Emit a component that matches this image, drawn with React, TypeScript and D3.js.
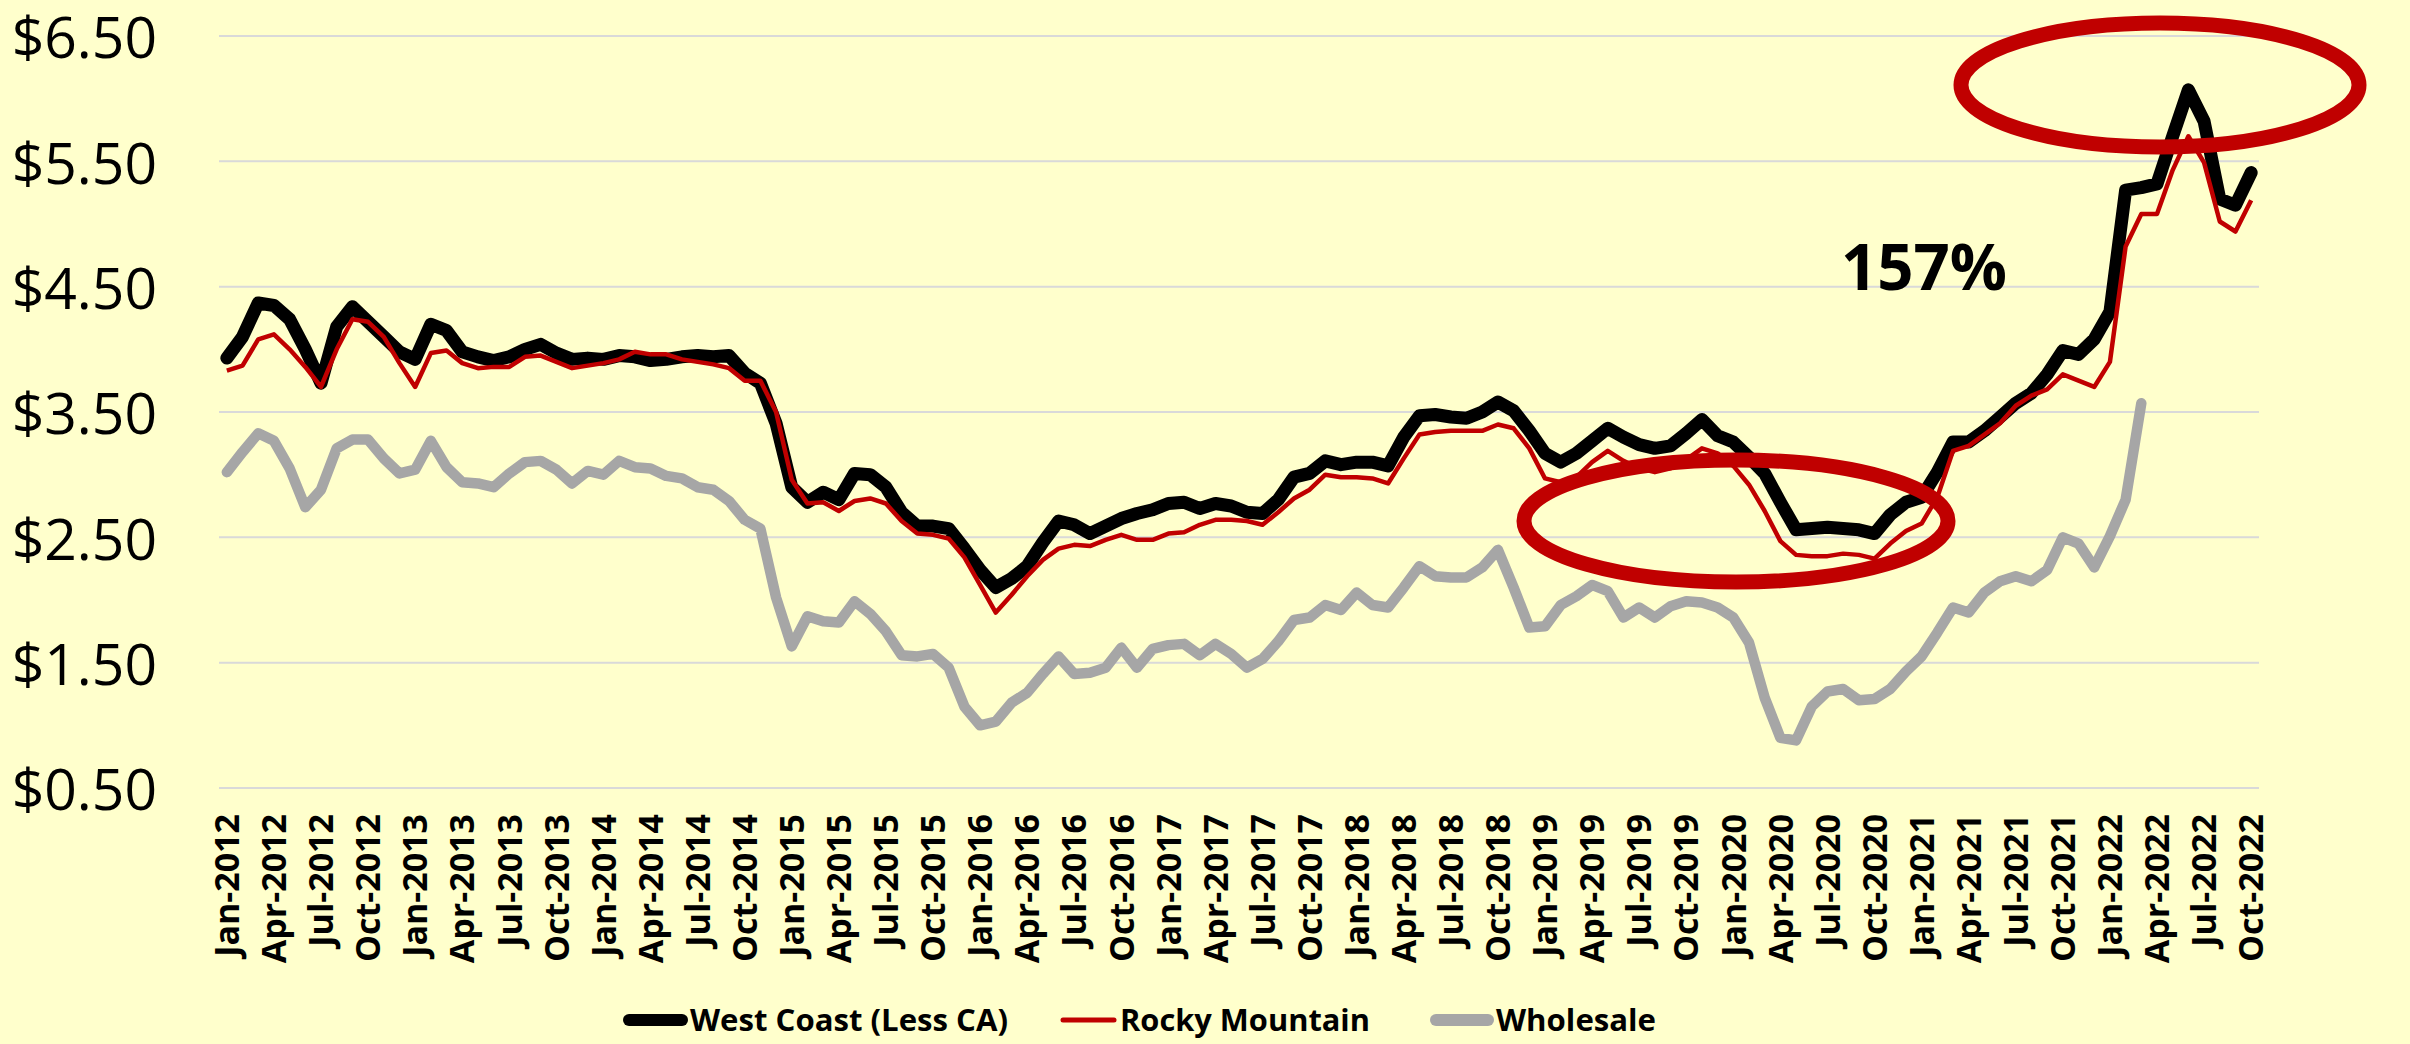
import { useEffect, useRef } from "react";
import * as d3 from "d3";

// monthly categories Jan-2012 .. Oct-2022
const months = d3
  .timeMonth.range(new Date(2012, 0, 1), new Date(2022, 10, 1))
  .map(d3.timeFormat("%b-%Y"));

const westCoast = [
  3.93, 4.1, 4.37, 4.35, 4.24, 4.0, 3.73, 4.18, 4.34, 4.22, 4.1, 3.98,
  3.92, 4.2, 4.15, 3.98, 3.94, 3.91, 3.94, 4.0, 4.04, 3.97, 3.92, 3.93,
  3.92, 3.95, 3.94, 3.91, 3.92, 3.94, 3.95, 3.94, 3.95, 3.81, 3.73, 3.41,
  2.9, 2.78, 2.86, 2.8, 3.01, 3.0, 2.9, 2.7, 2.59, 2.59, 2.57, 2.41,
  2.24, 2.1, 2.17, 2.27, 2.46, 2.63, 2.6, 2.53, 2.59, 2.65, 2.69, 2.72,
  2.77, 2.78, 2.73, 2.77, 2.75, 2.7, 2.69, 2.8, 2.98, 3.01, 3.11, 3.08,
  3.1, 3.1, 3.07, 3.3, 3.47, 3.48, 3.46, 3.45, 3.5, 3.58, 3.51, 3.35,
  3.17, 3.1, 3.17, 3.27, 3.37, 3.3, 3.24, 3.21, 3.23, 3.33, 3.44, 3.31,
  3.26, 3.14, 3.01, 2.78, 2.56, 2.57, 2.58, 2.57, 2.56, 2.53, 2.68, 2.78,
  2.82, 3.02, 3.26, 3.26, 3.35, 3.46, 3.57, 3.65, 3.8, 3.99, 3.96, 4.08,
  4.3, 5.27, 5.29, 5.32, 5.7, 6.07, 5.82, 5.2, 5.15, 5.41,
];

const rockyMountain = [
  3.83, 3.87, 4.08, 4.12, 4.0, 3.86, 3.7, 4.0, 4.24, 4.22, 4.1, 3.89,
  3.7, 3.97, 3.99, 3.89, 3.85, 3.86, 3.86, 3.94, 3.95, 3.9, 3.85, 3.87,
  3.89, 3.92, 3.98, 3.96, 3.96, 3.92, 3.9, 3.88, 3.85, 3.75, 3.75, 3.5,
  2.96, 2.77, 2.78, 2.71, 2.79, 2.81, 2.77, 2.63, 2.53, 2.52, 2.49, 2.34,
  2.12, 1.9, 2.04, 2.19, 2.32, 2.41, 2.44, 2.43, 2.48, 2.52, 2.48, 2.48,
  2.53, 2.54, 2.6, 2.64, 2.64, 2.63, 2.6, 2.7, 2.81, 2.88, 3.0, 2.98,
  2.98, 2.97, 2.93, 3.13, 3.32, 3.34, 3.35, 3.35, 3.35, 3.4, 3.37, 3.21,
  2.97, 2.94, 2.98, 3.1, 3.19, 3.11, 3.05, 3.02, 3.05, 3.12, 3.21, 3.17,
  3.07, 2.92, 2.71, 2.47, 2.36, 2.35, 2.35, 2.37, 2.36, 2.33, 2.45, 2.55,
  2.61, 2.82, 3.19, 3.23, 3.32, 3.41, 3.55, 3.63, 3.68, 3.8, 3.75, 3.7,
  3.9, 4.82, 5.08, 5.08, 5.43, 5.7, 5.49, 5.02, 4.94, 5.19,
];

// wholesale stops at Mar-2022
const wholesale = [
  3.02, 3.18, 3.33, 3.27, 3.05, 2.74, 2.88, 3.21, 3.28, 3.28, 3.13, 3.01,
  3.04, 3.27, 3.06, 2.94, 2.93, 2.9, 3.01, 3.1, 3.11, 3.04, 2.93, 3.03,
  3.0, 3.11, 3.06, 3.05, 2.99, 2.97, 2.9, 2.88, 2.79, 2.64, 2.57, 2.02,
  1.63, 1.87, 1.83, 1.82, 1.99, 1.89, 1.75, 1.56, 1.55, 1.57, 1.46, 1.15,
  1.0, 1.03, 1.18, 1.26, 1.41, 1.55, 1.41, 1.42, 1.46, 1.62, 1.46, 1.61,
  1.64, 1.65, 1.56, 1.65, 1.57, 1.46, 1.53, 1.67, 1.84, 1.86, 1.96, 1.92,
  2.06, 1.96, 1.94, 2.1, 2.27, 2.19, 2.18, 2.18, 2.26, 2.4, 2.1, 1.78,
  1.79, 1.96, 2.03, 2.12, 2.07, 1.86, 1.94, 1.86, 1.95, 1.99, 1.98, 1.94,
  1.86, 1.66, 1.22, 0.9, 0.88, 1.15, 1.27, 1.29, 1.2, 1.21, 1.29, 1.43,
  1.55, 1.74, 1.94, 1.9, 2.06, 2.15, 2.19, 2.15, 2.24, 2.5, 2.45, 2.26,
  2.51, 2.8, 3.57,
];

const yTicks = [0.5, 1.5, 2.5, 3.5, 4.5, 5.5, 6.5];
const seriesNames = ["West Coast (Less CA)", "Rocky Mountain", "Wholesale"];
const calloutText = "157%";

function App() {
  const ref = useRef<SVGSVGElement>(null);

  useEffect(() => {
    drawChart();
  }, []);

  function drawChart() {
    const width = 2410,
      height = 1044;
    const margin = { left: 219, right: 151, top: 36, bottom: 256 };

    const svg = d3.select(ref.current);
    svg.selectAll("*").remove();

    svg.append("rect").attr("width", width).attr("height", height).attr("fill", "#FFFFCC");

    const x = d3
      .scaleBand()
      .domain(months)
      .range([margin.left, width - margin.right]);
    const cx = (i: number) => (x(months[i]) as number) + x.bandwidth() / 2;

    const y = d3
      .scaleLinear()
      .domain([0.5, 6.5])
      .range([height - margin.bottom, margin.top]);

    // gridlines
    svg.append("g")
      .selectAll("line")
      .data(yTicks)
      .join("line")
      .attr("x1", margin.left)
      .attr("x2", width - margin.right)
      .attr("y1", (d) => y(d))
      .attr("y2", (d) => y(d))
      .attr("stroke", "#D9D9D9")
      .attr("stroke-width", 2);

    // y axis labels
    const yAxis = svg.append("g")
      .attr("transform", `translate(157,0)`)
      .call(d3.axisLeft(y).tickValues(yTicks).tickSize(0).tickPadding(0).tickFormat(d3.format("$.2f")));
    yAxis.select(".domain").remove();
    yAxis.selectAll("text")
      .attr("font-family", "'Open Sans', sans-serif")
      .attr("font-size", 57)
      .attr("fill", "#000")
      .attr("dy", "0.38em");

    // x axis labels, every third month
    const xAxis = svg.append("g")
      .attr("transform", `translate(0,${height - margin.bottom})`)
      .call(
        d3.axisBottom(x)
          .tickValues(months.filter((_, i) => i % 3 === 0))
          .tickSize(0)
      );
    xAxis.select(".domain").remove();
    xAxis.selectAll("text")
      .attr("font-family", "'Open Sans', sans-serif")
      .attr("font-weight", "bold")
      .attr("font-size", 34)
      .attr("fill", "#000")
      .attr("text-anchor", "end")
      .attr("transform", "rotate(-90)")
      .attr("x", -26)
      .attr("y", 0)
      .attr("dy", "0.36em");

    const line = d3
      .line<number>()
      .x((_, i) => cx(i))
      .y((d) => y(d))
      .curve(d3.curveLinear);

    svg.append("path")
      .datum(wholesale)
      .attr("d", line)
      .attr("fill", "none")
      .attr("stroke", "#A6A6A6")
      .attr("stroke-width", 10.5)
      .attr("stroke-linejoin", "round")
      .attr("stroke-linecap", "round");

    svg.append("path")
      .datum(westCoast)
      .attr("d", line)
      .attr("fill", "none")
      .attr("stroke", "#000")
      .attr("stroke-width", 13)
      .attr("stroke-linejoin", "round")
      .attr("stroke-linecap", "round");

    svg.append("path")
      .datum(rockyMountain)
      .attr("d", line)
      .attr("fill", "none")
      .attr("stroke", "#C00000")
      .attr("stroke-width", 4.5)
      .attr("stroke-linejoin", "round");

    // callout ellipses
    svg.append("ellipse")
      .attr("cx", 1736).attr("cy", 521).attr("rx", 212).attr("ry", 61)
      .attr("fill", "none").attr("stroke", "#C00000").attr("stroke-width", 15);
    svg.append("ellipse")
      .attr("cx", 2160).attr("cy", 85).attr("rx", 199).attr("ry", 62)
      .attr("fill", "none").attr("stroke", "#C00000").attr("stroke-width", 15);

    svg.append("text")
      .attr("x", 1841)
      .attr("y", 290)
      .attr("font-family", "'Open Sans', sans-serif")
      .attr("font-weight", "bold")
      .attr("font-size", 65)
      .attr("textLength", 166)
      .attr("lengthAdjust", "spacingAndGlyphs")
      .text(calloutText);

    // legend
    const ly = 1020;
    const legendItems = [
      { name: seriesNames[0], color: "#000", w: 12, x0: 629, x1: 682, tx: 690, tl: 318 },
      { name: seriesNames[1], color: "#C00000", w: 5, x0: 1063, x1: 1114, tx: 1120, tl: 250 },
      { name: seriesNames[2], color: "#A6A6A6", w: 12, x0: 1436, x1: 1488, tx: 1496, tl: 160 },
    ];
    const legend = svg.append("g");
    legendItems.forEach((d) => {
      legend.append("line")
        .attr("x1", d.x0).attr("x2", d.x1).attr("y1", ly).attr("y2", ly)
        .attr("stroke", d.color).attr("stroke-width", d.w).attr("stroke-linecap", "round");
      legend.append("text")
        .attr("x", d.tx)
        .attr("y", ly)
        .attr("dy", "0.36em")
        .attr("font-family", "'Open Sans', sans-serif")
        .attr("font-weight", "bold")
        .attr("font-size", 31)
        .attr("textLength", d.tl)
        .attr("lengthAdjust", "spacingAndGlyphs")
        .text(d.name);
    });
  }

  return (
    <svg
      ref={ref}
      width={2410}
      height={1044}
      style={{ position: "absolute", left: 0, top: 0, display: "block" }}
    />
  );
}

export default App;
